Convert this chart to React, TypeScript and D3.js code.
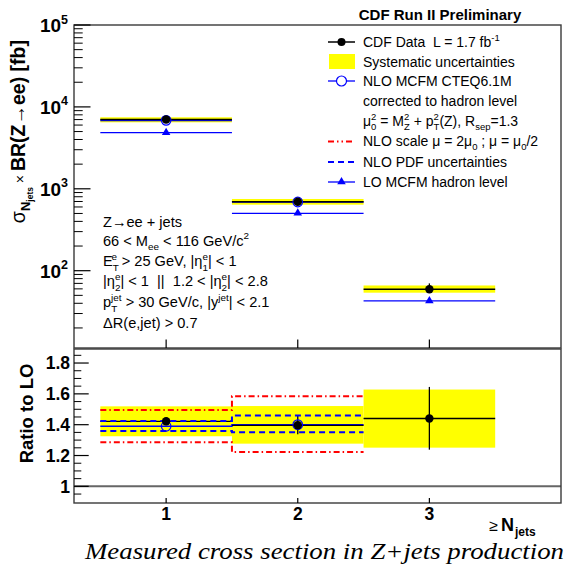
import React from 'react';
import * as d3 from 'd3';

// ---------------- data ----------------
const bins = [1, 2, 3];
const xTickLabels = ['1', '2', '3'];

// top panel: cross sections [fb]
const dataXsec = [7020, 696, 59.3];
const dataStatLow = [6930, 684, 53.5];
const dataStatHigh = [7110, 708, 70.0];
const systLow = [6486, 640, 53.9];
const systHigh = [7465, 751, 66.0];
const nloXsec = [6850, 690];
const loXsec = [4842, 502, 42.7];
const topMajorTicks = [1e2, 1e3, 1e4, 1e5];
const topTickExponents = ['2', '3', '4', '5'];

// bottom panel: ratio to LO
const ratioData = [1.422, 1.396, 1.44];
const ratioStatLow = [1.412, 1.338, 1.238];
const ratioStatHigh = [1.432, 1.461, 1.645];
const ratioSystLow = [1.325, 1.277, 1.251];
const ratioSystHigh = [1.519, 1.521, 1.628];
const ratioNlo = [1.39, 1.4];
const ratioScaleHigh = [1.495, 1.584];
const ratioScaleLow = [1.286, 1.223];
const ratioPdfHigh = [1.424, 1.459];
const ratioPdfLow = [1.359, 1.351];
const ratioMajorTicks = [1, 1.2, 1.4, 1.6, 1.8];
const ratioTickLabels = ['1', '1.2', '1.4', '1.6', '1.8'];

// ---------------- layout ----------------
const W = 568;
const H = 571;
const L = 74;
const R = 561;
const TT = 25;
const TB = 348;
const BT = 349;
const BB = 503;
const FONT = "'Liberation Sans', Arial, Helvetica, sans-serif";
const BLUE = '#0000ff';
const RED = '#ff0000';
const YEL = '#ffff00';
const FRAME = '#3a3a3a';

const x = d3.scaleLinear().domain([0.3, 4.0]).range([L, R]);
const yTop = d3.scaleLog().domain([11.38, 1e5]).range([TB, TT]);
const yBot = d3.scaleLinear().domain([0.892, 1.891]).range([BB, BT]);

const CW: Record<string, number> = {
  i: 0.222, j: 0.222, l: 0.222, f: 0.278, t: 0.278, r: 0.333, m: 0.833, w: 0.722,
  c: 0.5, k: 0.5, s: 0.5, v: 0.5, x: 0.5, y: 0.5, z: 0.5, T: 0.611, Z: 0.611, ' ': 0.278,
};
const textW = (s: string, fs: number) =>
  s.split('').reduce((a, ch) => a + (CW[ch] ?? 0.556), 0) * fs;

type Seg = { t?: string; sup?: string; sub?: string; fs?: number; bold?: boolean };

function richSpans(segs: Seg[], fs: number, keyBase = 'k') {
  const out: React.ReactNode[] = [];
  let cur = 0;
  let pendingDx = 0;
  const sfs = fs * 0.68;
  segs.forEach((s, i) => {
    const k = keyBase + i;
    if (s.sup !== undefined && s.sub !== undefined) {
      const subDy = fs * 0.32;
      const supDy = -fs * 0.42;
      const wsub = textW(s.sub, sfs);
      const wsup = textW(s.sup, sfs);
      out.push(
        <tspan key={k + 'b'} dx={pendingDx || undefined} dy={subDy - cur} fontSize={sfs}>{s.sub}</tspan>
      );
      out.push(
        <tspan key={k + 'p'} dx={-wsub} dy={supDy - subDy} fontSize={sfs}>{s.sup}</tspan>
      );
      cur = supDy;
      pendingDx = wsub > wsup ? wsub - wsup : 0;
    } else if (s.sup !== undefined) {
      const d = -fs * 0.42;
      out.push(<tspan key={k} dx={pendingDx || undefined} dy={d - cur} fontSize={s.fs ?? sfs} fontWeight={s.bold ? 'bold' : undefined}>{s.sup}</tspan>);
      cur = d;
      pendingDx = 0;
    } else if (s.sub !== undefined) {
      const d = fs * 0.32;
      out.push(<tspan key={k} dx={pendingDx || undefined} dy={d - cur} fontSize={s.fs ?? sfs} fontWeight={s.bold ? 'bold' : undefined}>{s.sub}</tspan>);
      cur = d;
      pendingDx = 0;
    } else {
      out.push(<tspan key={k} dx={pendingDx || undefined} dy={-cur} fontSize={s.fs ?? fs} fontWeight={s.bold ? 'bold' : undefined}>{s.t}</tspan>);
      cur = 0;
      pendingDx = 0;
    }
  });
  return out;
}

function stepPath(vals: number[], y: (v: number) => number) {
  let d = '';
  vals.forEach((v, i) => {
    const x0 = x(bins[i] - 0.5);
    const x1 = x(bins[i] + 0.5);
    d += (i === 0 ? `M${x0},${y(v)}` : `V${y(v)}`) + `H${x1}`;
  });
  return d;
}

const tri = (cx: number, cy: number, s: number) =>
  `M${cx},${cy - s}L${cx + s * 0.95},${cy + s * 0.6}L${cx - s * 0.95},${cy + s * 0.6}Z`;

const cutLines: Seg[][] = [
  [{ t: 'Z\u2192ee + jets' }],
  [{ t: '66 < M' }, { sub: 'ee' }, { t: ' < 116 GeV/c' }, { sup: '2' }],
  [{ t: 'E' }, { sup: 'e', sub: 'T' }, { t: ' > 25 GeV, |\u03b7' }, { sup: 'e', sub: '1' }, { t: '| < 1' }],
  [{ t: '|\u03b7' }, { sup: 'e', sub: '2' }, { t: '| < 1\u00a0\u00a0||\u00a0\u00a01.2 < |\u03b7' }, { sup: 'e', sub: '2' }, { t: '| < 2.8' }],
  [{ t: 'p' }, { sup: 'jet', sub: 'T' }, { t: ' > 30 GeV/c, |y' }, { sup: 'jet' }, { t: '| < 2.1' }],
  [{ t: '\u0394R(e,jet) > 0.7' }],
];
const cutBaselines = [227, 245.5, 266, 286, 307, 328];

const legendRows: Seg[][] = [
  [{ t: 'CDF Data\u00a0\u00a0L = 1.7 fb' }, { sup: '-1' }],
  [{ t: 'Systematic uncertainties' }],
  [{ t: 'NLO MCFM CTEQ6.1M' }],
  [{ t: 'corrected to hadron level' }],
  [{ t: '\u03bc' }, { sup: '2', sub: '0' }, { t: ' = M' }, { sup: '2', sub: 'Z' }, { t: ' + p' }, { sup: '2', sub: 'T' }, { t: '(Z), R' }, { sub: 'sep' }, { t: '=1.3' }],
  [{ t: 'NLO scale \u03bc = 2\u03bc' }, { sub: '0' }, { t: ' ; \u03bc = \u03bc' }, { sub: '0' }, { t: '/2' }],
  [{ t: 'NLO PDF uncertainties' }],
  [{ t: 'LO MCFM hadron level' }],
];
const legendBaselines = [47, 67, 86, 105.5, 125.5, 146, 166.5, 186.5];
const legendCenters = [42, 61.5, 81, 101, 121, 141.5, 162, 182];

export default function App() {
  const topMinor: number[] = [];
  for (let k = 1; k <= 4; k++) {
    for (let m = 2; m <= 9; m++) {
      const v = m * Math.pow(10, k);
      if (v > 11.38 && v < 1e5) topMinor.push(v);
    }
  }
  const botMinor: number[] = [];
  for (let v = 0.95; v < 1.88; v += 0.05) {
    const r = Math.round(v * 100) / 100;
    if (Math.abs(r * 5 - Math.round(r * 5)) > 1e-6) botMinor.push(r);
  }
  const nloBins = bins.slice(0, nloXsec.length);
  const lx0 = 328;
  const lx1 = 355;
  const lxc = (lx0 + lx1) / 2;
  const ltx = 363;

  return (
    <svg width={W} height={H} style={{ display: 'block', position: 'absolute', left: 0, top: 0 }} fontFamily={FONT}>
      <rect x={0} y={0} width={W} height={H} fill="#fff" />

      {/* ===== top panel ===== */}
      {bins.map((b, i) => (
        <rect key={'sy' + i} x={x(b - 0.5)} width={x(b + 0.5) - x(b - 0.5)} y={yTop(systHigh[i])} height={yTop(systLow[i]) - yTop(systHigh[i])} fill={YEL} />
      ))}
      {bins.map((b, i) => (
        <g key={'lo' + i}>
          <line x1={x(b - 0.5)} x2={x(b + 0.5)} y1={yTop(loXsec[i])} y2={yTop(loXsec[i])} stroke={BLUE} strokeWidth={1.3} />
          <path d={tri(x(b), yTop(loXsec[i]) - 0.5, 4.5)} fill={BLUE} />
        </g>
      ))}
      {nloBins.map((b, i) => (
        <line key={'nl' + i} x1={x(b - 0.5)} x2={x(b + 0.5)} y1={yTop(nloXsec[i])} y2={yTop(nloXsec[i])} stroke={BLUE} strokeWidth={1.6} />
      ))}
      {bins.map((b, i) => (
        <g key={'d' + i}>
          <line x1={x(b - 0.5)} x2={x(b + 0.5)} y1={yTop(dataXsec[i])} y2={yTop(dataXsec[i])} stroke="#000" strokeWidth={1.5} />
          <line x1={x(b)} x2={x(b)} y1={yTop(dataStatHigh[i])} y2={yTop(dataStatLow[i])} stroke="#000" strokeWidth={1.3} />
        </g>
      ))}
      {nloBins.map((b, i) => (
        <circle key={'nc' + i} cx={x(b)} cy={yTop(nloXsec[i])} r={4.8} fill="none" stroke={BLUE} strokeWidth={1.2} />
      ))}
      {bins.map((b, i) => (
        <circle key={'dc' + i} cx={x(b)} cy={yTop(dataXsec[i])} r={4.2} fill="#000" />
      ))}

      {/* top frame & axes */}
      <rect x={L} y={TT} width={R - L} height={TB - TT} fill="none" stroke={FRAME} strokeWidth={1.4} />
      {topMajorTicks.map((v, i) => (
        <g key={'tt' + i}>
          <line x1={L} x2={L + 16.5} y1={yTop(v)} y2={yTop(v)} stroke="#000" strokeWidth={1.2} />
          <text x={68} y={yTop(v) + 7} textAnchor="end" fontSize={19} fontWeight="bold">
            <tspan>10</tspan>
            <tspan dy={-8.5} fontSize={12.5}>{topTickExponents[i]}</tspan>
          </text>
        </g>
      ))}
      {topMinor.map((v, i) => (
        <line key={'tm' + i} x1={L} x2={L + 8.7} y1={yTop(v)} y2={yTop(v)} stroke="#000" strokeWidth={1} />
      ))}
      {bins.map((b, i) => (
        <line key={'tx' + i} x1={x(b)} x2={x(b)} y1={TB} y2={TB - 8.5} stroke="#000" strokeWidth={1.2} />
      ))}

      {/* top y title */}
      <text transform="translate(25,40) rotate(-90)" x={0} y={0} textAnchor="end" fontSize={19.5}>
        <tspan fontWeight="normal">{'\u03c3'}</tspan>
        <tspan dy={5} fontSize={13} fontWeight="bold">N</tspan>
        <tspan dy={3} fontSize={8.5} fontWeight="bold">jets</tspan>
        <tspan dy={-8} fontSize={14}>{'\u00a0\u00d7\u00a0'}</tspan>
        <tspan fontWeight="bold">{'BR(Z\u2192ee) [fb]'}</tspan>
      </text>

      {/* cuts text */}
      {cutLines.map((segs, i) => (
        <text key={'cut' + i} x={103} y={cutBaselines[i]} fontSize={14.6}>
          {richSpans(segs, 14.6, 'c' + i + '_')}
        </text>
      ))}

      {/* header */}
      <text x={440} y={19.5} textAnchor="middle" fontSize={15} fontWeight="bold">CDF Run II Preliminary</text>

      {/* legend */}
      <line x1={lx0} x2={lx1} y1={legendCenters[0]} y2={legendCenters[0]} stroke="#000" strokeWidth={1.5} />
      <circle cx={lxc} cy={legendCenters[0]} r={4} fill="#000" />
      <rect x={329} y={54} width={26} height={15} fill={YEL} />
      <line x1={lx0} x2={lx1} y1={legendCenters[2]} y2={legendCenters[2]} stroke={BLUE} strokeWidth={1.3} />
      <circle cx={lxc} cy={legendCenters[2]} r={5} fill="#fff" stroke={BLUE} strokeWidth={1.2} />
      <line x1={lx0} x2={lx1} y1={legendCenters[5]} y2={legendCenters[5]} stroke={RED} strokeWidth={2} strokeDasharray="6,3,1.5,3,1.5,3" />
      <line x1={lx0} x2={lx1} y1={legendCenters[6]} y2={legendCenters[6]} stroke={BLUE} strokeWidth={2} strokeDasharray="6,4" />
      <line x1={lx0} x2={lx1} y1={legendCenters[7]} y2={legendCenters[7]} stroke={BLUE} strokeWidth={1.3} />
      <path d={tri(lxc, legendCenters[7] - 0.5, 4.5)} fill={BLUE} />
      {legendRows.map((segs, i) => (
        <text key={'lg' + i} x={ltx} y={legendBaselines[i]} fontSize={14}>
          {richSpans(segs, 14, 'l' + i + '_')}
        </text>
      ))}

      {/* ===== bottom panel ===== */}
      {bins.map((b, i) => (
        <rect key={'rs' + i} x={x(b - 0.5)} width={x(b + 0.5) - x(b - 0.5)} y={yBot(ratioSystHigh[i])} height={yBot(ratioSystLow[i]) - yBot(ratioSystHigh[i])} fill={YEL} />
      ))}
      <line x1={L} x2={R} y1={yBot(1)} y2={yBot(1)} stroke="#666" strokeWidth={2} />
      <path d={stepPath(ratioScaleHigh, yBot)} fill="none" stroke={RED} strokeWidth={2} strokeDasharray="6,3,1.5,3" />
      <path d={stepPath(ratioScaleLow, yBot)} fill="none" stroke={RED} strokeWidth={2} strokeDasharray="6,3,1.5,3" />
      <path d={stepPath(ratioNlo, yBot)} fill="none" stroke={BLUE} strokeWidth={1.5} />
      {bins.map((b, i) => (
        <g key={'rd' + i}>
          <line x1={x(b - 0.5)} x2={x(b + 0.5)} y1={yBot(ratioData[i])} y2={yBot(ratioData[i])} stroke="#000" strokeWidth={1.3} />
          <line x1={x(b)} x2={x(b)} y1={yBot(ratioStatHigh[i])} y2={yBot(ratioStatLow[i])} stroke="#000" strokeWidth={1.3} />
        </g>
      ))}
      <path d={stepPath(ratioPdfHigh, yBot)} fill="none" stroke={BLUE} strokeWidth={2} strokeDasharray="6,4" />
      <path d={stepPath(ratioPdfLow, yBot)} fill="none" stroke={BLUE} strokeWidth={2} strokeDasharray="6,4" />
      {nloBins.map((b, i) => (
        <circle key={'rn' + i} cx={x(b)} cy={yBot(ratioNlo[i])} r={4.8} fill="none" stroke={BLUE} strokeWidth={1.2} />
      ))}
      {bins.map((b, i) => (
        <circle key={'rc' + i} cx={x(b)} cy={yBot(ratioData[i])} r={4.2} fill="#000" />
      ))}

      <rect x={L} y={BT} width={R - L} height={BB - BT} fill="none" stroke={FRAME} strokeWidth={1.4} />
      {ratioMajorTicks.map((v, i) => (
        <g key={'bt' + i}>
          <line x1={L} x2={L + 14.7} y1={yBot(v)} y2={yBot(v)} stroke="#000" strokeWidth={1.2} />
          <text x={70} y={yBot(v) + 6.3} textAnchor="end" fontSize={17.5} fontWeight="bold">{ratioTickLabels[i]}</text>
        </g>
      ))}
      {botMinor.map((v, i) => (
        <line key={'bm' + i} x1={L} x2={L + 7.3} y1={yBot(v)} y2={yBot(v)} stroke="#000" strokeWidth={1} />
      ))}
      {bins.map((b, i) => (
        <g key={'bx' + i}>
          <line x1={x(b)} x2={x(b)} y1={BB} y2={BB - 5} stroke="#000" strokeWidth={1.2} />
          <text x={x(b)} y={520} textAnchor="middle" fontSize={17.5} fontWeight="bold">{xTickLabels[i]}</text>
        </g>
      ))}

      <text transform="translate(33,413.5) rotate(-90)" textAnchor="middle" fontSize={18.5} fontWeight="bold">Ratio to LO</text>

      {/* x axis title: ≥ N_jets */}
      <text x={498} y={531} textAnchor="end" fontSize={16}>{'\u2265'}</text>
      <text x={501} y={531} fontSize={18} fontWeight="bold">N</text>
      <text x={515} y={535.5} fontSize={12} fontWeight="bold">jets</text>

      <text x={85} y={559} fontSize={23.5} fontStyle="italic" fontFamily="'Liberation Serif', 'Times New Roman', serif" textLength={479} lengthAdjust="spacingAndGlyphs">
        Measured cross section in Z+jets production
      </text>
    </svg>
  );
}
